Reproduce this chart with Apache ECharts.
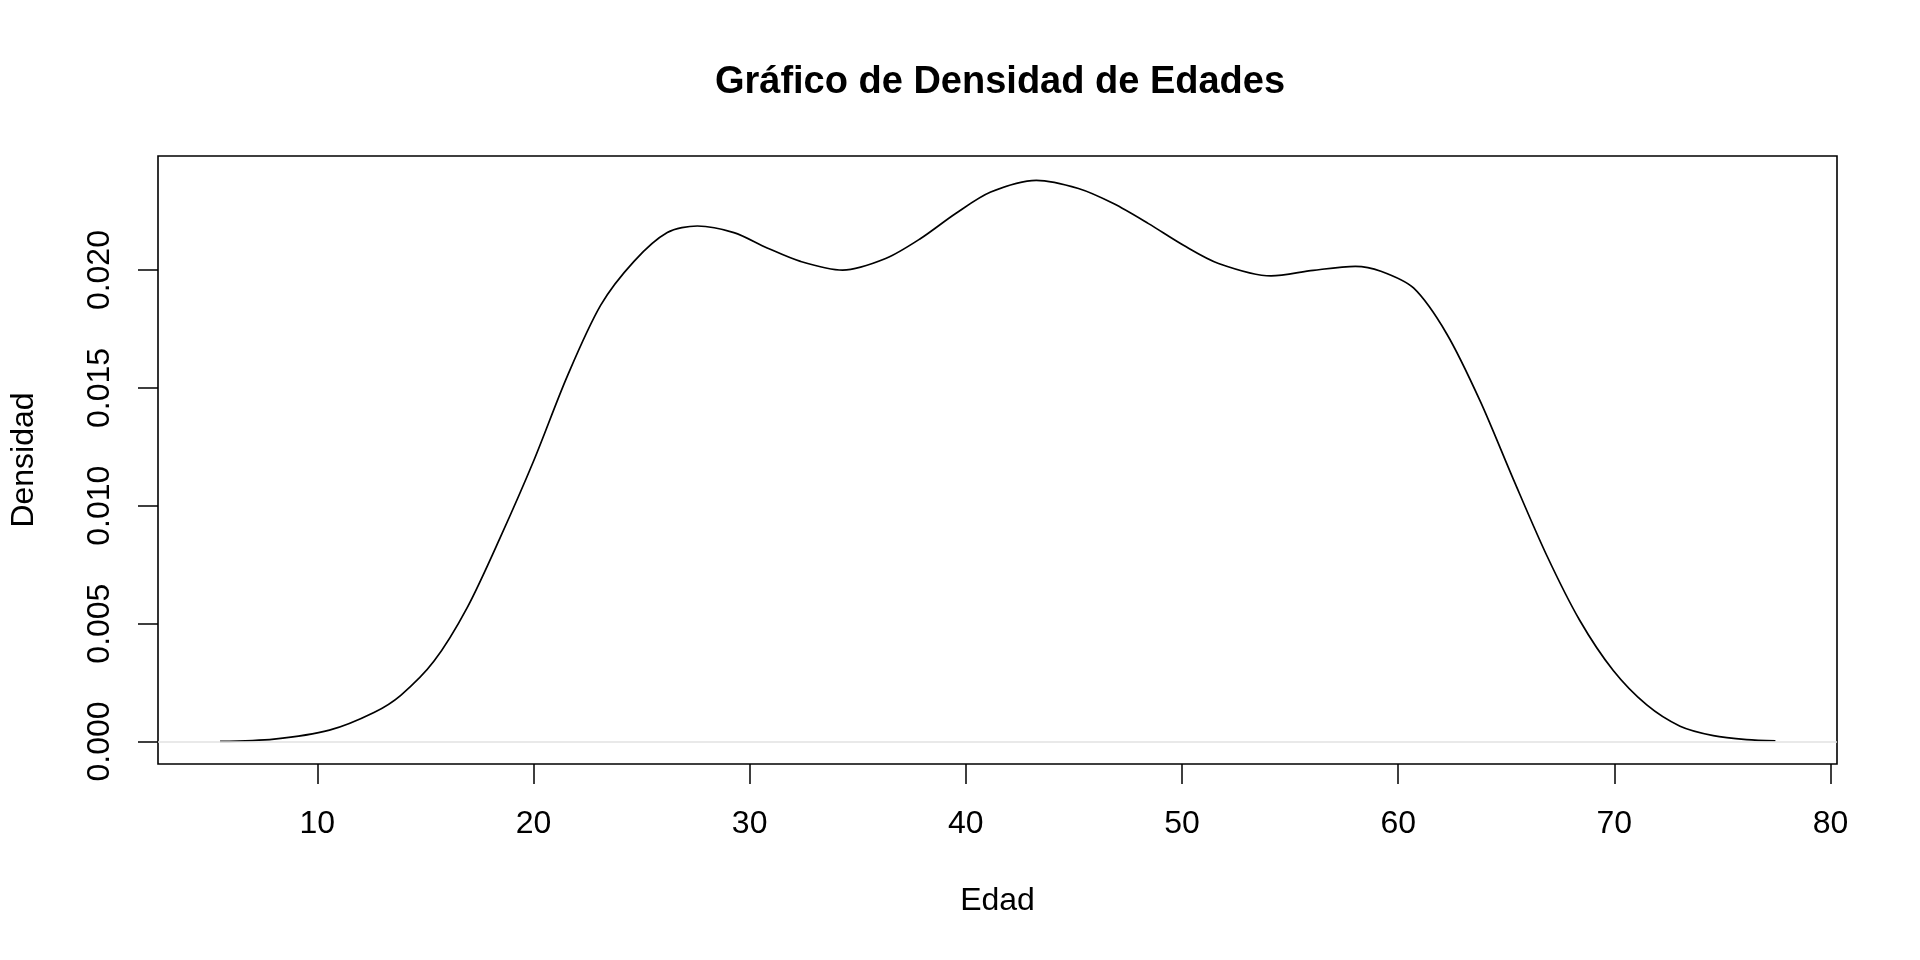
<!DOCTYPE html>
<html>
<head>
<meta charset="utf-8">
<script src="https://cdn.jsdelivr.net/npm/echarts@6/dist/echarts.min.js"></script>
<style>html,body{margin:0;padding:0;background:#fff;}#c{width:1920px;height:960px;}</style>
</head>
<body>
<div id="c"></div>
<script>
// Density curve (edad, densidad)
const edad = [5.5, 8.0, 10.56, 12.62, 13.86, 15.40, 16.94, 18.48, 20.02, 21.57, 23.11, 24.65, 26.19, 27.58, 29.27, 30.81, 32.35, 34.30, 36.29, 37.91, 39.53, 41.15, 43.26, 45.21, 46.83, 48.45, 50.07, 51.69, 54.12, 56.07, 58.02, 59.20, 60.71, 62.25, 63.79, 65.33, 66.88, 68.41, 69.95, 71.50, 73.04, 74.58, 76.12, 77.45];
const densidad = [0.00000, 0.00010, 0.00048, 0.00123, 0.00196, 0.00341, 0.00569, 0.00869, 0.01193, 0.01551, 0.01851, 0.02037, 0.02159, 0.02187, 0.02159, 0.02094, 0.02037, 0.02000, 0.02049, 0.02134, 0.02240, 0.02331, 0.02381, 0.02346, 0.02282, 0.02197, 0.02105, 0.02028, 0.01975, 0.01999, 0.02016, 0.01995, 0.01924, 0.01729, 0.01445, 0.01112, 0.00788, 0.00512, 0.00301, 0.00155, 0.00065, 0.00025, 0.00008, 0.00003];
const xTicks = [10, 20, 30, 40, 50, 60, 70, 80];
const yTicks = [0, 0.005, 0.010, 0.015, 0.020];
const titulo = 'Gráfico de Densidad de Edades';
const xNombre = 'Edad';
const yNombre = 'Densidad';

const FONT = '"Liberation Sans", Arial, Helvetica, sans-serif';
const chart = echarts.init(document.getElementById('c'), null, {renderer: 'canvas'});
const pts = edad.map((x, i) => [x, densidad[i]]);
chart.setOption({
  animation: false,
  backgroundColor: '#fff',
  title: {
    text: titulo,
    left: 995, top: 59, textAlign: 'center',
    textStyle: {fontFamily: FONT, fontSize: 38, fontWeight: 'bold', color: '#000'}
  },
  grid: {left: 157, right: 83, top: 156, bottom: 196, show: true, borderColor: '#000', borderWidth: 1.6, backgroundColor: 'transparent'},
  xAxis: {
    type: 'value', min: 2.63, max: 80.30,
    name: xNombre, nameLocation: 'middle', nameGap: 121,
    nameTextStyle: {fontFamily: FONT, fontSize: 32, color: '#000'},
    axisLine: {show: false, onZero: false},
    splitLine: {show: false},
    axisTick: {show: true, inside: false, length: 20, customValues: xTicks, lineStyle: {color: '#000', width: 1.5}},
    axisLabel: {customValues: xTicks, margin: 44, fontFamily: FONT, fontSize: 32, color: '#000'}
  },
  yAxis: {
    type: 'value', min: -0.000956, max: 0.02484,
    name: yNombre, nameLocation: 'middle', nameGap: 118,
    nameTextStyle: {fontFamily: FONT, fontSize: 32, color: '#000'},
    axisLine: {show: false, onZero: false},
    splitLine: {show: false},
    axisTick: {show: true, inside: false, length: 20, customValues: yTicks, lineStyle: {color: '#000', width: 1.5}},
    axisLabel: {customValues: yTicks, rotate: 90, margin: 42, fontFamily: FONT, fontSize: 32, color: '#000',
      formatter: v => v.toFixed(3)}
  },
  series: [{
    type: 'line', data: pts, smooth: 0.3, showSymbol: false,
    lineStyle: {color: '#000', width: 1.7},
    markLine: {silent: true, symbol: ['none', 'none'], label: {show: false},
      lineStyle: {color: '#e2e2e2', width: 1.5, type: 'solid'},
      data: [{yAxis: 0}]}
  }]
});
</script>
</body>
</html>
